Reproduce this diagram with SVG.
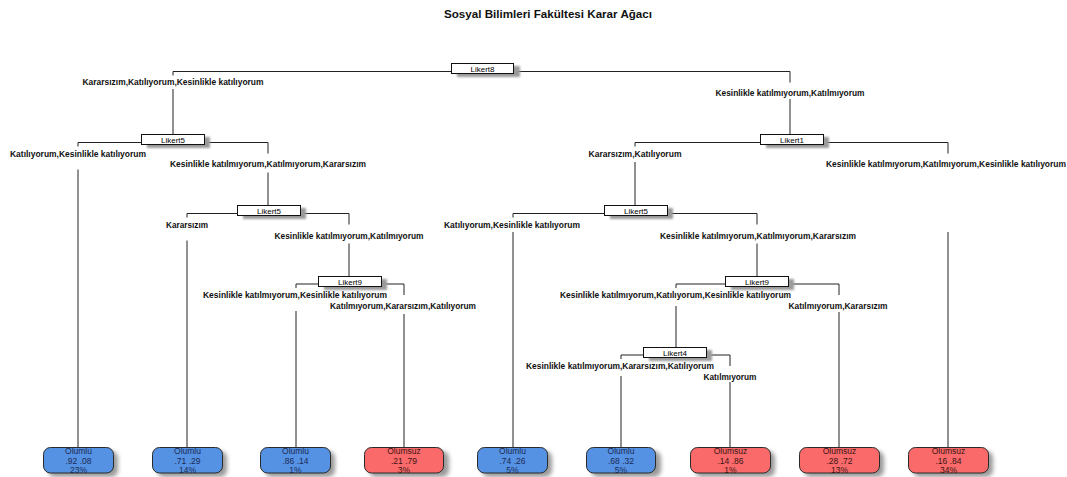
<svg xmlns="http://www.w3.org/2000/svg" width="1067" height="477" viewBox="0 0 1067 477">
<style>
.title{font-family:"Liberation Sans",Arial,sans-serif;font-size:11.5px;font-weight:bold;fill:#111;text-anchor:middle}
.lbl{font-family:"Liberation Sans",Arial,sans-serif;font-size:8.5px;font-weight:bold;fill:#111;text-anchor:middle}
.nt{font-family:"Liberation Sans",Arial,sans-serif;font-size:8px;fill:#000;text-anchor:middle}
.lt{font-family:"Liberation Sans",Arial,sans-serif;font-size:8.5px;text-anchor:middle}
.bt{fill:#1c2a55}
.rt{fill:#3a1414}
.box{fill:#fff;stroke:#111;stroke-width:1}
.bsh{fill:#9a9a9a;filter:url(#sh1)}
.leafb{fill:#5592e3;stroke:#2a2a2a;stroke-width:1}
.leafr{fill:#fb6a6a;stroke:#2a2a2a;stroke-width:1}
.lsh{fill:#9a9a9a;filter:url(#sh2)}
.con{fill:none;stroke:#222;stroke-width:1}
</style>
<defs>
<filter id="sh1" x="-20%" y="-60%" width="140%" height="220%"><feGaussianBlur stdDeviation="1.2"/></filter>
<filter id="sh2" x="-20%" y="-40%" width="140%" height="180%"><feGaussianBlur stdDeviation="2"/></filter>
</defs>
<rect width="1067" height="477" fill="#fff"/>
<text class="title" x="548" y="18" textLength="208" lengthAdjust="spacingAndGlyphs">Sosyal Bilimleri Fakültesi Karar Ağacı</text>

<g id="connectors">
<path class="con" d="M173 71.5H790 M173 71.5V75.5 M173 89V142.5 M790 71.5V82.5 M790 99V142.5"/>
<path class="con" d="M78 142.5H268 M78 142.5V146.5 M78 169.5V447 M268 142.5V153.5 M268 172.5V213.5"/>
<path class="con" d="M187 213.5H349 M187 213.5V217.5 M187 240.5V447 M349 213.5V224.5 M349 243.5V284"/>
<path class="con" d="M296 284H404 M296 284V288 M296 311V447 M404 284V295 M404 314V447"/>
<path class="con" d="M635 142.5H948 M635 142.5V146.5 M635 162V213.5 M948 142.5V153.5 M948 232V447"/>
<path class="con" d="M513 213.5H757 M513 213.5V217.5 M513 232V447 M757 213.5V224.5 M757 243.5V284"/>
<path class="con" d="M676 284H839 M676 284V288 M676 306V355 M839 284V295 M839 312V447"/>
<path class="con" d="M621 355H730 M621 355V359 M621 376V447 M730 355V366 M730 382V447"/>
</g>

<g id="edge-labels">
<text class="lbl" x="173" y="85" textLength="181" lengthAdjust="spacingAndGlyphs">Kararsızım,Katılıyorum,Kesinlikle katılıyorum</text>
<text class="lbl" x="790" y="95.5" textLength="149" lengthAdjust="spacingAndGlyphs">Kesinlikle katılmıyorum,Katılmıyorum</text>
<text class="lbl" x="78" y="156.5" textLength="136" lengthAdjust="spacingAndGlyphs">Katılıyorum,Kesinlikle katılıyorum</text>
<text class="lbl" x="268" y="167" textLength="196" lengthAdjust="spacingAndGlyphs">Kesinlikle katılmıyorum,Katılmıyorum,Kararsızım</text>
<text class="lbl" x="187" y="228" textLength="42" lengthAdjust="spacingAndGlyphs">Kararsızım</text>
<text class="lbl" x="349" y="238.5" textLength="149" lengthAdjust="spacingAndGlyphs">Kesinlikle katılmıyorum,Katılmıyorum</text>
<text class="lbl" x="295" y="298" textLength="184" lengthAdjust="spacingAndGlyphs">Kesinlikle katılmıyorum,Kesinlikle katılıyorum</text>
<text class="lbl" x="403" y="308.5" textLength="146" lengthAdjust="spacingAndGlyphs">Katılmıyorum,Kararsızım,Katılıyorum</text>
<text class="lbl" x="635" y="156.5" textLength="93" lengthAdjust="spacingAndGlyphs">Kararsızım,Katılıyorum</text>
<text class="lbl" x="946" y="167" textLength="240" lengthAdjust="spacingAndGlyphs">Kesinlikle katılmıyorum,Katılmıyorum,Kesinlikle katılıyorum</text>
<text class="lbl" x="512" y="228" textLength="136" lengthAdjust="spacingAndGlyphs">Katılıyorum,Kesinlikle katılıyorum</text>
<text class="lbl" x="758" y="238.5" textLength="196" lengthAdjust="spacingAndGlyphs">Kesinlikle katılmıyorum,Katılmıyorum,Kararsızım</text>
<text class="lbl" x="675.5" y="298" textLength="231" lengthAdjust="spacingAndGlyphs">Kesinlikle katılmıyorum,Katılıyorum,Kesinlikle katılıyorum</text>
<text class="lbl" x="838" y="308.5" textLength="99" lengthAdjust="spacingAndGlyphs">Katılmıyorum,Kararsızım</text>
<text class="lbl" x="620" y="369" textLength="188" lengthAdjust="spacingAndGlyphs">Kesinlikle katılmıyorum,Kararsızım,Katılıyorum</text>
<text class="lbl" x="730" y="379.5" textLength="53" lengthAdjust="spacingAndGlyphs">Katılmıyorum</text>
</g>

<g id="n-likert8">
<rect class="bsh" x="457" y="66" width="63" height="11"/>
<rect class="box" x="451.5" y="63.5" width="62" height="10"/>
<text class="nt" x="482.5" y="71.5">Likert8</text>
</g>
<g id="n-likert5-a">
<rect class="bsh" x="147" y="137" width="63" height="11"/>
<rect class="box" x="141.5" y="134.5" width="63" height="10"/>
<text class="nt" x="173" y="142.5">Likert5</text>
</g>
<g id="n-likert5-b">
<rect class="bsh" x="243" y="208" width="63" height="11"/>
<rect class="box" x="237.5" y="205.5" width="63" height="10"/>
<text class="nt" x="269" y="213.5">Likert5</text>
</g>
<g id="n-likert9-a">
<rect class="bsh" x="324" y="279" width="63" height="11"/>
<rect class="box" x="318.5" y="276.5" width="63" height="10"/>
<text class="nt" x="350" y="284.5">Likert9</text>
</g>
<g id="n-likert1">
<rect class="bsh" x="766" y="137" width="63" height="11"/>
<rect class="box" x="760.5" y="134.5" width="63" height="10"/>
<text class="nt" x="792" y="142.5">Likert1</text>
</g>
<g id="n-likert5-c">
<rect class="bsh" x="610" y="208" width="63" height="11"/>
<rect class="box" x="604.5" y="205.5" width="63" height="10"/>
<text class="nt" x="636" y="213.5">Likert5</text>
</g>
<g id="n-likert9-b">
<rect class="bsh" x="731" y="279" width="63" height="11"/>
<rect class="box" x="725.5" y="276.5" width="63" height="10"/>
<text class="nt" x="757" y="284.5">Likert9</text>
</g>
<g id="n-likert4">
<rect class="bsh" x="649" y="350" width="63" height="11"/>
<rect class="box" x="643.5" y="347.5" width="63" height="10"/>
<text class="nt" x="675" y="355.5">Likert4</text>
</g>

<g id="leaf1">
<rect class="lsh" x="48" y="451" width="70" height="26" rx="7"/>
<rect class="leafb" x="43.5" y="447.5" width="70" height="25.5" rx="7"/>
<text class="lt bt" x="78.5" y="454">Olumlu</text>
<text class="lt bt" x="78.5" y="463.5">.92  .08</text>
<text class="lt bt" x="78.5" y="473">23%</text>
</g>
<g id="leaf2">
<rect class="lsh" x="157" y="451" width="70" height="26" rx="7"/>
<rect class="leafb" x="152.5" y="447.5" width="70" height="25.5" rx="7"/>
<text class="lt bt" x="187.5" y="454">Olumlu</text>
<text class="lt bt" x="187.5" y="463.5">.71  .29</text>
<text class="lt bt" x="187.5" y="473">14%</text>
</g>
<g id="leaf3">
<rect class="lsh" x="265" y="451" width="70" height="26" rx="7"/>
<rect class="leafb" x="260.5" y="447.5" width="70" height="25.5" rx="7"/>
<text class="lt bt" x="295.5" y="454">Olumlu</text>
<text class="lt bt" x="295.5" y="463.5">.86  .14</text>
<text class="lt bt" x="295.5" y="473">1%</text>
</g>
<g id="leaf4">
<rect class="lsh" x="369" y="451" width="80" height="26" rx="7"/>
<rect class="leafr" x="364.5" y="447.5" width="79" height="25.5" rx="7"/>
<text class="lt rt" x="404" y="454">Olumsuz</text>
<text class="lt rt" x="404" y="463.5">.21  .79</text>
<text class="lt rt" x="404" y="473">3%</text>
</g>
<g id="leaf5">
<rect class="lsh" x="482" y="451" width="70" height="26" rx="7"/>
<rect class="leafb" x="477.5" y="447.5" width="70" height="25.5" rx="7"/>
<text class="lt bt" x="512.5" y="454">Olumlu</text>
<text class="lt bt" x="512.5" y="463.5">.74  .26</text>
<text class="lt bt" x="512.5" y="473">5%</text>
</g>
<g id="leaf6">
<rect class="lsh" x="591" y="451" width="70" height="26" rx="7"/>
<rect class="leafb" x="586.5" y="447.5" width="69" height="25.5" rx="7"/>
<text class="lt bt" x="621" y="454">Olumlu</text>
<text class="lt bt" x="621" y="463.5">.68  .32</text>
<text class="lt bt" x="621" y="473">5%</text>
</g>
<g id="leaf7">
<rect class="lsh" x="695" y="451" width="80" height="26" rx="7"/>
<rect class="leafr" x="690.5" y="447.5" width="80" height="25.5" rx="7"/>
<text class="lt rt" x="730.5" y="454">Olumsuz</text>
<text class="lt rt" x="730.5" y="463.5">.14  .86</text>
<text class="lt rt" x="730.5" y="473">1%</text>
</g>
<g id="leaf8">
<rect class="lsh" x="804" y="451" width="80" height="26" rx="7"/>
<rect class="leafr" x="799.5" y="447.5" width="80" height="25.5" rx="7"/>
<text class="lt rt" x="839.5" y="454">Olumsuz</text>
<text class="lt rt" x="839.5" y="463.5">.28  .72</text>
<text class="lt rt" x="839.5" y="473">13%</text>
</g>
<g id="leaf9">
<rect class="lsh" x="913" y="451" width="80" height="26" rx="7"/>
<rect class="leafr" x="908.5" y="447.5" width="80" height="25.5" rx="7"/>
<text class="lt rt" x="948.5" y="454">Olumsuz</text>
<text class="lt rt" x="948.5" y="463.5">.16  .84</text>
<text class="lt rt" x="948.5" y="473">34%</text>
</g>
</svg>
